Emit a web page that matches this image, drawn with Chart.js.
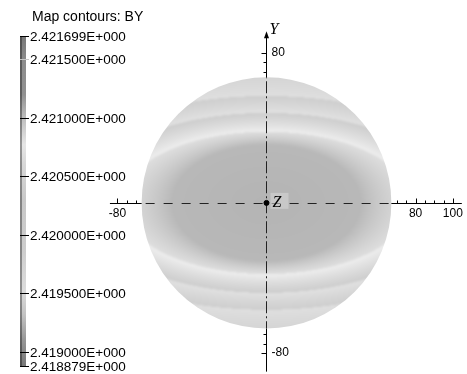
<!DOCTYPE html>
<html>
<head>
<meta charset="utf-8">
<script src="https://cdn.jsdelivr.net/npm/chart.js@4.4.1/dist/chart.umd.min.js"></script>
<style>
  html,body{margin:0;padding:0;background:#fff}
  canvas{display:block}
</style>
</head>
<body>
<canvas id="c" width="467" height="374"></canvas>
<script>
// --- data ---
const chartTitle = 'Map contours: BY'
const cbTicks = [2.421699, 2.4215, 2.421, 2.4205, 2.42, 2.4195, 2.419, 2.418879]
const cbStopBY = [2.421699, 2.4215, 2.4212, 2.421, 2.42077, 2.4206, 2.4203, 2.41987, 2.41953, 2.41932, 2.4191, 2.418879]
const discRadius = 67
// contour ellipses, outer -> inner (data units)
const contourRx = [150, 122, 100, 78, 50.5]
const contourRy = [68, 57, 48, 38, 31]
const xLabels = [-80, 80, 100]
const yLabels = [80, -80]
const tickStep = 5
const origin = [{x: 0, y: 0}]

// --- styles ---
const cbStopGray = [120, 140, 145, 190, 230, 215, 200, 205, 220, 195, 150, 120]
const bandOuterGray = [212, 206, 205, 222, 184]
const bandInnerGray = [223, 225, 238, 184, 180]
const SANS = '"Liberation Sans", Arial, sans-serif'
const SERIF = '"Liberation Serif", "Times New Roman", serif'
const xAxisEnds = [-84, 104.8]
const yAxisEnds = [-90, 91.5]

function lerp(a, b, t){ return a + (b - a) * t }

function shadeAt(x, y){
  const n = contourRx.length
  const s = contourRx.map((rx, k) => Math.hypot(x / rx, y / contourRy[k]))
  if (s[0] > 1) return bandOuterGray[0]
  let k = 0
  while (k + 1 < n && s[k + 1] <= 1) k++
  let f
  if (k === n - 1) f = s[k]
  else f = (s[k + 1] - 1) / (s[k + 1] - s[k])
  return lerp(bandInnerGray[k], bandOuterGray[k], f)
}

function drawDisc(chart){
  const ctx = chart.ctx, xs = chart.scales.x, ys = chart.scales.y
  const cx = xs.getPixelForValue(0), cy = ys.getPixelForValue(0)
  const rpx = xs.getPixelForValue(discRadius) - cx
  const rpy = cy - ys.getPixelForValue(discRadius)
  const x0 = Math.floor(cx - rpx) - 4, y0 = Math.floor(cy - rpy) - 4
  const w = Math.ceil(2 * rpx) + 9, h = Math.ceil(2 * rpy) + 9
  const off = document.createElement('canvas')
  off.width = w; off.height = h
  const octx = off.getContext('2d')
  const img = octx.createImageData(w, h)
  for (let j = 0; j < h; j++){
    const vy = ys.getValueForPixel(y0 + j + 0.5)
    for (let i = 0; i < w; i++){
      const vx = xs.getValueForPixel(x0 + i + 0.5)
      const g = Math.round(shadeAt(vx, vy))
      const p = (j * w + i) * 4
      img.data[p] = img.data[p + 1] = img.data[p + 2] = g
      img.data[p + 3] = 255
    }
  }
  octx.putImageData(img, 0, 0)
  ctx.save()
  ctx.beginPath()
  ctx.ellipse(cx, cy, rpx, rpy, 0, 0, Math.PI * 2)
  ctx.clip()
  ctx.filter = 'blur(1.3px)'
  ctx.drawImage(off, x0, y0)
  ctx.restore()
}

function drawAxes(chart){
  const ctx = chart.ctx, xs = chart.scales.x, ys = chart.scales.y
  const cx = Math.round(xs.getPixelForValue(0)) + 0.5
  const cy = Math.round(ys.getPixelForValue(0)) + 0.5
  ctx.save()
  ctx.lineWidth = 1
  // x axis
  const xl = xs.getPixelForValue(xAxisEnds[0]), xr = xs.getPixelForValue(xAxisEnds[1])
  const dl = xs.getPixelForValue(-discRadius), dr = xs.getPixelForValue(discRadius)
  ctx.strokeStyle = '#000'
  ctx.beginPath(); ctx.moveTo(xl, cy); ctx.lineTo(dl, cy); ctx.moveTo(dr, cy); ctx.lineTo(xr, cy); ctx.stroke()
  ctx.strokeStyle = '#222'
  ctx.setLineDash([9, 9]); ctx.lineDashOffset = -4
  ctx.beginPath(); ctx.moveTo(dl, cy); ctx.lineTo(dr, cy); ctx.stroke()
  // y axis
  const yb = ys.getPixelForValue(yAxisEnds[0]), yt = ys.getPixelForValue(yAxisEnds[1])
  const dt = ys.getPixelForValue(discRadius), db = ys.getPixelForValue(-discRadius)
  ctx.setLineDash([])
  ctx.strokeStyle = '#000'
  ctx.beginPath(); ctx.moveTo(cx, yt + 4); ctx.lineTo(cx, dt); ctx.moveTo(cx, db); ctx.lineTo(cx, yb); ctx.stroke()
  ctx.strokeStyle = '#222'
  ctx.setLineDash([12, 3, 2, 3])
  ctx.beginPath(); ctx.moveTo(cx, dt); ctx.lineTo(cx, db); ctx.stroke()
  ctx.setLineDash([])
  // arrow on y
  ctx.fillStyle = '#000'
  ctx.beginPath(); ctx.moveTo(cx, yt); ctx.lineTo(cx - 2.5, yt + 7); ctx.lineTo(cx + 2.5, yt + 7); ctx.closePath(); ctx.fill()

  // ticks
  ctx.strokeStyle = '#000'
  ctx.beginPath()
  const xMin = Math.min(...xLabels), xMax = Math.max(...xLabels)
  for (let v = xMin; v <= xMax; v += tickStep){
    if (Math.abs(v) < discRadius) continue
    const px = Math.round(xs.getPixelForValue(v)) + 0.5
    const len = xLabels.includes(v) ? 5 : 3
    ctx.moveTo(px, cy); ctx.lineTo(px, cy - len)
  }
  const yMin = Math.min(...yLabels), yMax = Math.max(...yLabels)
  for (let v = yMin; v <= yMax; v += tickStep){
    if (Math.abs(v) < discRadius) continue
    const py = Math.round(ys.getPixelForValue(v)) + 0.5
    const len = yLabels.includes(v) ? 5 : 3
    ctx.moveTo(cx, py); ctx.lineTo(cx - len, py)
  }
  ctx.stroke()

  // tick labels
  ctx.fillStyle = '#000'
  ctx.font = '12px ' + SANS
  ctx.textAlign = 'center'; ctx.textBaseline = 'middle'
  xLabels.forEach(v => ctx.fillText(String(v), xs.getPixelForValue(v), cy + 10))
  ctx.textAlign = 'left'
  yLabels.forEach(v => ctx.fillText(String(v), cx + 5, ys.getPixelForValue(v)))
  ctx.restore()
}

function drawLabels(chart){
  const ctx = chart.ctx, xs = chart.scales.x, ys = chart.scales.y
  const cx = xs.getPixelForValue(0), cy = ys.getPixelForValue(0)
  ctx.save()
  // Z label box
  ctx.fillStyle = 'rgba(215,215,215,0.55)'
  ctx.fillRect(cx + 4, cy - 10, 18, 16)
  ctx.fillStyle = '#000'
  ctx.font = 'italic 16px ' + SERIF
  ctx.textAlign = 'left'; ctx.textBaseline = 'middle'
  ctx.fillText('Z', cx + 6, cy)
  // Y label
  ctx.fillText('Y', cx + 3, ys.getPixelForValue(yAxisEnds[1]) - 2)
  // title
  ctx.font = '14px ' + SANS
  ctx.textBaseline = 'alphabetic'
  ctx.fillText(chartTitle, 32, 21)
  ctx.restore()
}

function drawColorbar(chart){
  const ctx = chart.ctx, cb = chart.scales.cb
  const top = cb.getPixelForValue(cbTicks[0]), bot = cb.getPixelForValue(cbTicks[cbTicks.length - 1])
  ctx.save()
  const grad = ctx.createLinearGradient(0, top, 0, bot)
  cbStopBY.forEach((v, i) => {
    const t = (cb.getPixelForValue(v) - top) / (bot - top)
    const g = cbStopGray[i]
    grad.addColorStop(Math.min(1, Math.max(0, t)), `rgb(${g},${g},${g})`)
  })
  ctx.fillStyle = grad
  ctx.fillRect(20, top, 6, bot - top)
  ctx.fillStyle = 'rgba(0,0,0,0.35)'
  ctx.fillRect(20, top, 2, bot - top)
  // ticks + labels
  ctx.lineWidth = 1
  ctx.font = '13.5px ' + SANS
  ctx.textAlign = 'left'; ctx.textBaseline = 'middle'
  cbTicks.forEach(v => {
    const py = Math.round(cb.getPixelForValue(v)) + 0.5
    ctx.strokeStyle = v === 2.4215 ? '#c8c8c8' : '#000'
    ctx.beginPath(); ctx.moveTo(20, py); ctx.lineTo(29, py); ctx.stroke()
    ctx.fillStyle = '#000'
    ctx.fillText(v.toFixed(6) + 'E+000', 30, py + 1)
  })
  ctx.restore()
}

const mapPlugin = {
  id: 'mapContours',
  beforeDatasetsDraw(chart){
    drawDisc(chart)
    drawAxes(chart)
    drawColorbar(chart)
  },
  afterDraw(chart){ drawLabels(chart) }
}

new Chart(document.getElementById('c'), {
  type: 'scatter',
  data: {
    datasets: [{
      data: origin,
      pointRadius: 2.5,
      pointBackgroundColor: '#000',
      pointBorderColor: '#000'
    }]
  },
  options: {
    responsive: false,
    animation: false,
    devicePixelRatio: 1,
    layout: { padding: { left: 109, right: 2, top: 36, bottom: 8 } },
    scales: {
      x: { type: 'linear', min: -84.5, max: 104.9, display: false },
      y: { type: 'linear', min: -87, max: 89, display: false },
      cb: { type: 'linear', axis: 'y', position: 'left', min: 2.418879, max: 2.421699, display: false }
    },
    plugins: { legend: { display: false }, tooltip: { enabled: false } }
  },
  plugins: [mapPlugin]
})
</script>
</body>
</html>
